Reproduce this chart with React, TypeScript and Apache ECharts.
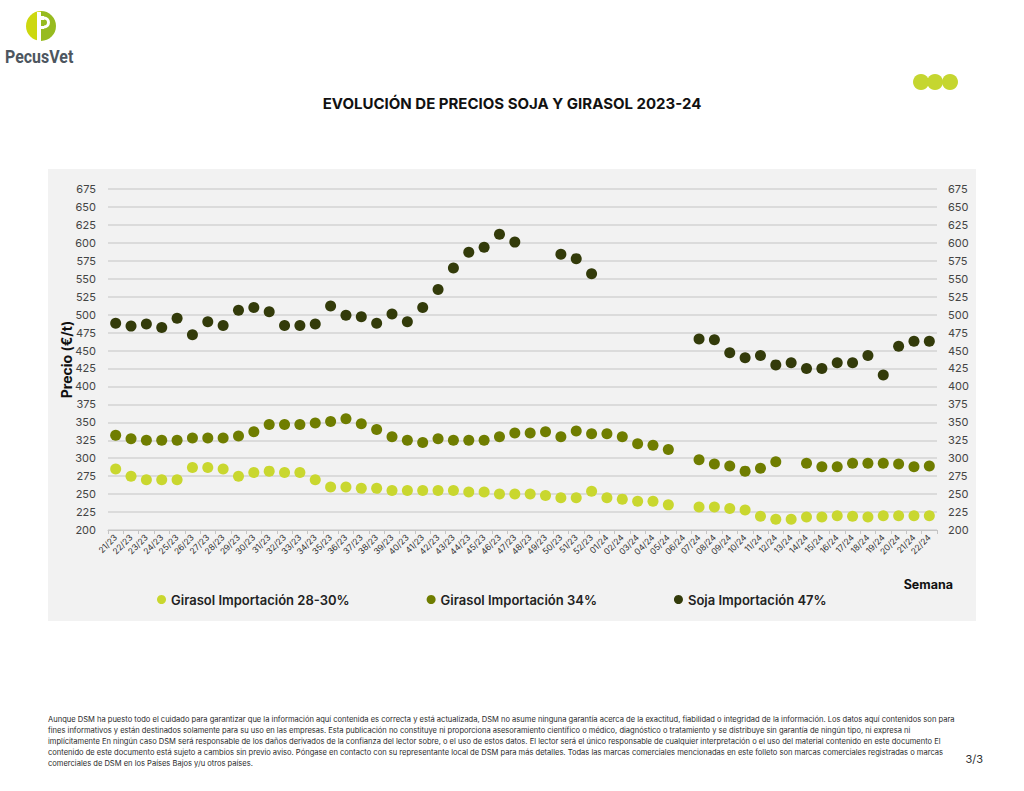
import React, { useEffect, useRef } from "react";
import * as echarts from "echarts";

const weeks23 = ["21/23","22/23","23/23","24/23","25/23","26/23","27/23","28/23","29/23","30/23","31/23","32/23","33/23","34/23","35/23","36/23","37/23","38/23","39/23","40/23","41/23","42/23","43/23","44/23","45/23","46/23","47/23","48/23","49/23","50/23","51/23","52/23"];
const weeks24 = ["01/24","02/24","03/24","04/24","05/24","06/24","07/24","08/24","09/24","10/24","11/24","12/24","13/24","14/24","15/24","16/24","17/24","18/24","19/24","20/24","21/24","22/24"];
const categories = [...weeks23, ...weeks24];

const girasol2830 = [285,275,270,270,270,287,287,285,275,280,282,280,280,270,260,260,258,258,255,255,255,255,255,253,253,250,250,250,248,245,245,254,
  245,243,240,240,235,null,232,232,230,228,219,215,215,218,218,220,219,218,220,220,220,220];
const girasol34 = [332,327,325,325,325,328,328,328,331,337,347,347,347,349,351,355,348,340,330,325,322,327,325,325,325,330,335,335,337,330,338,334,
  334,330,320,318,312,null,298,292,289,282,286,295,null,293,288,288,293,293,293,292,288,289];
const soja47 = [488,484,487,482,495,472,490,485,506,510,504,485,485,487,512,499,497,488,501,490,510,535,565,587,594,612,601,null,null,584,578,557,
  null,null,null,null,null,null,466,465,447,440,443,430,433,425,425,433,433,443,416,456,463,463];

const seriesNames = ["Girasol Importación 28-30%", "Girasol Importación 34%", "Soja Importación 47%"];
const seriesColors = ["#c9d72f", "#6f7d00", "#333b0a"];

const title = "EVOLUCIÓN DE PRECIOS SOJA Y GIRASOL 2023-24";
const footerLines = [
  "Aunque DSM ha puesto todo el cuidado para garantizar que la información aquí contenida es correcta y está actualizada, DSM no asume ninguna garantía acerca de la exactitud, fiabilidad o integridad de la información. Los datos aquí contenidos son para",
  "fines informativos y están destinados solamente para su uso en las empresas. Esta publicación no constituye ni proporciona asesoramiento científico o médico, diagnóstico o tratamiento y se distribuye sin garantía de ningún tipo, ni expresa ni",
  "implícitamente En ningún caso DSM será responsable de los daños derivados de la confianza del lector sobre, o el uso de estos datos. El lector será el único responsable de cualquier interpretación o el uso del material contenido en este documento El",
  "contenido de este documento está sujeto a cambios sin previo aviso. Póngase en contacto con su representante local de DSM para más detalles. Todas las marcas comerciales mencionadas en este folleto son marcas comerciales registradas o marcas",
  "comerciales de DSM en los Países Bajos y/u otros países.",
];

const FONT = "Inter, 'Noto Sans', sans-serif";

export default function App() {
  const ref = useRef<HTMLDivElement>(null);
  useEffect(() => {
    if (!ref.current) return;
    const chart = echarts.init(ref.current, undefined, { renderer: "svg" });
    const yAxisBase = {
      type: "value" as const,
      min: 200,
      max: 675,
      interval: 25,
      axisLine: { show: false },
      axisTick: { show: false },
    };
    chart.setOption({
      animation: false,
      backgroundColor: "#ffffff",
      textStyle: { fontFamily: FONT },
      grid: { left: 108, right: 87, top: 189, bottom: 261, containLabel: false },
      legend: {
        data: seriesNames,
        left: 152,
        top: 588,
        icon: "circle",
        itemWidth: 9,
        itemHeight: 9,
        itemGap: 77,
        textStyle: { fontSize: 13, fontWeight: 600, color: "#222", fontFamily: FONT },
      },
      xAxis: {
        type: "category",
        data: categories,
        boundaryGap: true,
        axisLine: { lineStyle: { color: "#c4c4c4" } },
        axisTick: { show: true, length: 4, lineStyle: { color: "#c4c4c4" } },
        axisLabel: { interval: 0, rotate: 45, fontSize: 8.5, color: "#333", margin: 6, fontFamily: FONT },
        splitLine: { show: false },
      },
      yAxis: [
        {
          ...yAxisBase,
          position: "left",
          name: "Precio (€/t)",
          nameLocation: "middle",
          nameGap: 35,
          nameMoveOverlap: false,
          nameTextStyle: { fontSize: 14, fontWeight: "bold", color: "#111", fontFamily: FONT },
          axisLabel: { fontSize: 11, color: "#444", margin: 12, fontFamily: FONT },
          splitLine: { lineStyle: { color: "#d3d3d3", width: 1.5 } },
        },
        {
          ...yAxisBase,
          position: "right",
          axisLabel: { fontSize: 11, color: "#444", margin: 11, fontFamily: FONT },
          splitLine: { show: false },
        },
      ],
      series: [
        { name: seriesNames[0], type: "scatter", data: girasol2830, symbolSize: 11, itemStyle: { color: seriesColors[0], opacity: 1 } },
        { name: seriesNames[1], type: "scatter", data: girasol34, symbolSize: 11, itemStyle: { color: seriesColors[1], opacity: 1 } },
        { name: seriesNames[2], type: "scatter", data: soja47, symbolSize: 11, itemStyle: { color: seriesColors[2], opacity: 1 } },
      ],
      graphic: [
        { type: "rect", z: -100, shape: { x: 48, y: 169, width: 928, height: 452 }, style: { fill: "#f2f2f2" }, silent: true },
        // logo
        { type: "sector", shape: { cx: 41, cy: 26, r: 15, startAngle: Math.PI / 2, endAngle: (3 * Math.PI) / 2 }, style: { fill: "#cdd80f" } },
        { type: "sector", shape: { cx: 41, cy: 26, r: 15, startAngle: -Math.PI / 2, endAngle: Math.PI / 2 }, style: { fill: "#97bb1f" } },
        { type: "rect", shape: { x: 37, y: 12, width: 4, height: 29 }, style: { fill: "#ffffff" } },
        { type: "rect", shape: { x: 37, y: 16, width: 7, height: 4 }, style: { fill: "#ffffff" } },
        { type: "rect", shape: { x: 37, y: 26, width: 7, height: 3 }, style: { fill: "#ffffff" } },
        { type: "arc", shape: { cx: 44, cy: 22.5, r: 4.5, startAngle: -Math.PI / 2, endAngle: Math.PI / 2 }, style: { stroke: "#ffffff", lineWidth: 3, fill: "none" } },
        { type: "text", x: 5, y: 47, scaleX: 0.84, style: { text: "PecusVet", fontSize: 19, fontWeight: "bold", fill: "#4d5660", fontFamily: "'Roboto', 'Liberation Sans', sans-serif" } },
        // dots top-right
        { type: "circle", shape: { cx: 921, cy: 82, r: 8 }, style: { fill: "#c5d630" } },
        { type: "circle", shape: { cx: 935, cy: 82, r: 8 }, style: { fill: "#c5d630" } },
        { type: "circle", shape: { cx: 950, cy: 82, r: 8 }, style: { fill: "#c5d630" } },
        // title
        { type: "text", x: 512, y: 103, style: { text: title, fontSize: 15, fontWeight: "bold", fill: "#111", align: "center", verticalAlign: "middle", fontFamily: FONT } },
        // Semana
        { type: "text", x: 953, y: 584, style: { text: "Semana", fontSize: 12.5, fontWeight: "bold", fill: "#111", align: "right", verticalAlign: "middle", fontFamily: FONT } },
        // footer
        ...footerLines.map((line, i) => ({
          type: "text",
          x: 48,
          y: 719 + i * 11,
          style: { text: line, fontSize: 7.55, fill: "#2a2a2a", verticalAlign: "middle", fontFamily: FONT },
        })),
        { type: "text", x: 983, y: 759, style: { text: "3/3", fontSize: 11, fill: "#333", align: "right", verticalAlign: "middle", fontFamily: FONT } },
      ],
    });
    return () => chart.dispose();
  }, []);
  return <div ref={ref} style={{ position: "fixed", left: 0, top: 0, width: 1024, height: 791 }} />;
}
